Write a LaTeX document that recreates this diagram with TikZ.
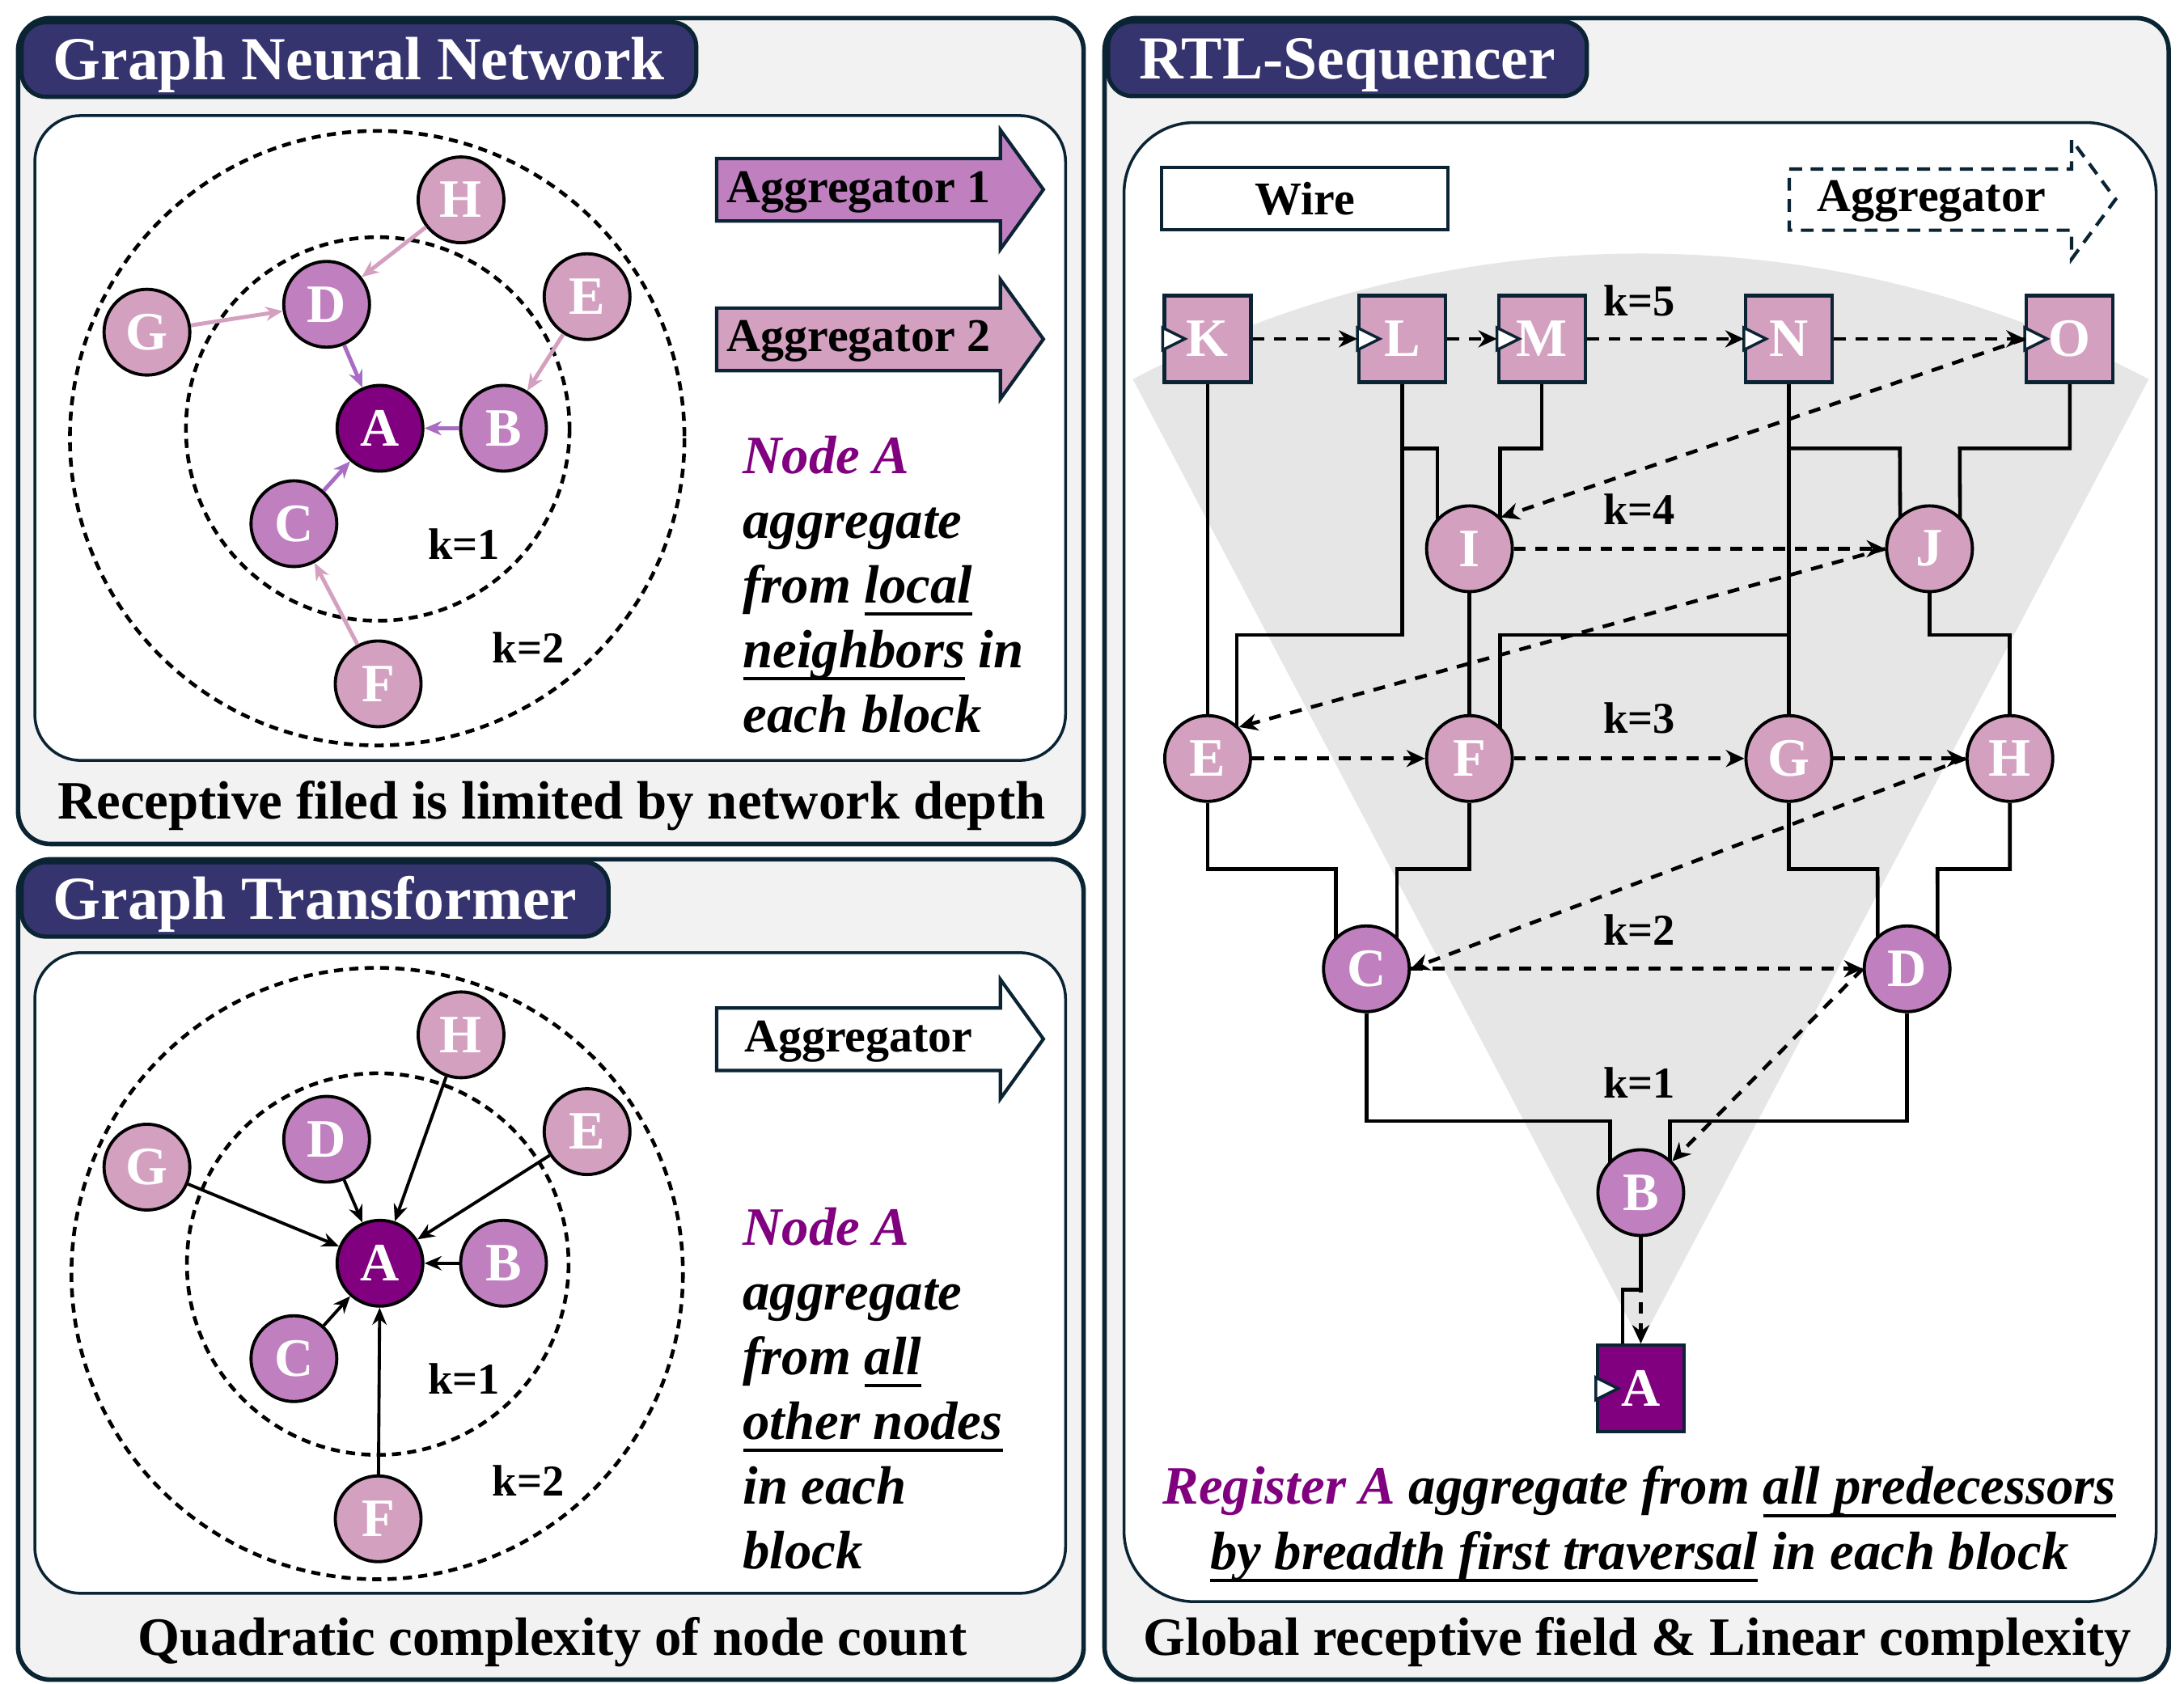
\documentclass[tikz,border=0pt]{standalone}
\usepackage{fontspec}
\setmainfont{Liberation Serif}
\usepackage{xcolor}
\usepackage{tikz}
\usetikzlibrary{arrows.meta,shapes.geometric,positioning,calc,backgrounds}
\definecolor{rsborder}{HTML}{0A2434}
\definecolor{tabnavy}{HTML}{36346F}
\definecolor{panelgray}{HTML}{F2F2F2}
\definecolor{fangray}{HTML}{E6E6E6}
\definecolor{deeppurple}{HTML}{800080}
\definecolor{midpurple}{HTML}{C080C0}
\definecolor{lightpink}{HTML}{D4A0C0}
\definecolor{midedge}{HTML}{A86CC4}
\newcommand{\undl}[1]{\setbox0=\hbox{#1}\rlap{\rule[-4.5pt]{\wd0}{1.2pt}}\box0\relax}
\tikzset{
  panelbox/.style={draw=rsborder, fill=panelgray, line width=1.6pt, rounded corners=0.4cm},
  innerbox/.style={draw=rsborder, fill=white, line width=1pt, rounded corners=0.57cm},
  titletab/.style={
    rectangle, draw=rsborder, fill=tabnavy, line width=1.5pt, rounded corners=0.3cm,
    text=white, font=\fontsize{21.5pt}{25pt}\selectfont\bfseries,
    minimum height=0.92cm, inner xsep=0.39cm, text height=14.2pt, text depth=0pt, anchor=north west
  },
  captext/.style={font=\fontsize{19pt}{22.8pt}\selectfont\bfseries, anchor=base, inner sep=0pt},
  notetext/.style={font=\fontsize{19pt}{22.8pt}\selectfont\bfseries\itshape, align=left, anchor=north west, inner sep=0pt},
  gnode/.style={
    circle, draw=black, line width=1.1pt, minimum size=1.06cm, inner sep=0pt,
    text=white, font=\fontsize{19pt}{20pt}\selectfont\bfseries
  },
  gdeep/.style={gnode, fill=deeppurple},
  gmid/.style={gnode, fill=midpurple},
  glight/.style={gnode, fill=lightpink},
  regbox/.style={
    rectangle, draw=rsborder, line width=1.2pt, minimum size=1.07cm, inner sep=0pt,
    text=white, font=\fontsize{19pt}{20pt}\selectfont\bfseries
  },
  clockmark/.style={fill=white, draw=rsborder, line width=1pt},
  gring/.style={line width=1.3pt, dash pattern=on 3.2pt off 2.2pt},
  gedgemid/.style={-{Stealth[length=6pt,width=5pt]}, draw=midedge, line width=1.4pt},
  gedgelight/.style={-{Stealth[length=6pt,width=5pt]}, draw=lightpink, line width=1.4pt},
  gedge/.style={-{Stealth[length=6pt,width=5pt]}, line width=1.1pt},
  klabel/.style={font=\fontsize{15.5pt}{18pt}\selectfont\bfseries, inner sep=0pt},
  aggshape/.style={draw=rsborder, line width=1.2pt},
  aggtext/.style={font=\fontsize{16.5pt}{19pt}\selectfont\bfseries, inner sep=0pt, anchor=base},
  wirebox/.style={
    rectangle, draw=rsborder, fill=white, line width=1.1pt, minimum width=3.54cm, minimum height=0.77cm,
    text height=11pt, text depth=0pt, font=\fontsize{16.5pt}{19pt}\selectfont\bfseries
  },
  wire/.style={line width=1.3pt},
  bfsedge/.style={-{Stealth[length=6.5pt,width=6pt]}, line width=1.3pt, dash pattern=on 4.2pt off 3.4pt}
}

\begin{document}
\begin{tikzpicture}[x=0.017219cm,y=-0.017219cm]
  \useasboundingbox (0,0) rectangle (1568,1209);

  % panels and the grey fan
  \begin{pgfonlayer}{background}
    \draw[panelbox] (13,13) rectangle (778,606);
    \draw[innerbox] (25,83) rectangle (765,546);
    \draw[panelbox] (13,617) rectangle (778,1206);
    \draw[innerbox] (25,684) rectangle (765,1144);
    \draw[panelbox] (793,13) rectangle (1557,1206);
    \draw[innerbox,rounded corners=0.87cm] (807,88) rectangle (1548,1150);
    \fill[fangray] (1178,964) -- ++(-117.8:782) arc[start angle=-117.8,end angle=-62.2,radius=782] -- cycle;
  \end{pgfonlayer}

  \node[titletab] (gntitle) at (14,14.5) {Graph Neural Network};
  \node[titletab] (gttitle) at (14,617.5) {Graph Transformer};
  \node[titletab] (rttitle) at (794,14) {RTL-Sequencer};

  % Graph Neural Network
  \draw[gring] (270.8,314.6) circle[radius=220.6];
  \draw[gring] (271.2,308) circle[radius=137.7];
  \node[gdeep] (gnA) at (272.8,307.5) {A};
  \node[gmid] (gnB) at (361.5,307.5) {B};
  \node[gmid] (gnC) at (211,376) {C};
  \node[gmid] (gnD) at (234.5,218.5) {D};
  \node[glight] (gnE) at (421.5,213) {E};
  \node[glight] (gnF) at (271.5,491) {F};
  \node[glight] (gnG) at (105.5,238.5) {G};
  \node[glight] (gnH) at (331,143.5) {H};
  \draw[gedgelight] (gnH) -- (gnD);
  \draw[gedgelight] (gnG) -- (gnD);
  \draw[gedgelight] (gnE) -- (gnB);
  \draw[gedgelight] (gnF) -- (gnC);
  \draw[gedgemid] (gnD) -- (gnA);
  \draw[gedgemid] (gnB) -- (gnA);
  \draw[gedgemid] (gnC) -- (gnA);
  \node[klabel] (gnk1) at (333,390.8) {k=1};
  \node[klabel] (gnk2) at (379.3,465) {k=2};
  \draw[aggshape,fill=midpurple] (514.5,113.8) -- (718.2,113.8) -- (718.2,93.3) -- (749.1,136.1)
    -- (718.2,179) -- (718.2,158.7) -- (514.5,158.7) -- cycle;
  \node[aggtext] (gnagg1) at (616.4,145.2) {Aggregator 1};
  \draw[aggshape,fill=lightpink] (514.5,221.2) -- (718.2,221.2) -- (718.2,200.7) -- (749.1,243.5)
    -- (718.2,286.4) -- (718.2,266.1) -- (514.5,266.1) -- cycle;
  \node[aggtext] (gnagg2) at (616.4,252.6) {Aggregator 2};
  \node[notetext] (gnnote) at (533,312.5) {\textcolor{deeppurple}{Node A}\\aggregate\\from \undl{local}\\\undl{neighbors} in\\each block};
  \node[captext] (gncap) at (396,588) {Receptive filed is limited by network depth};

  % Graph Transformer
  \draw[gring] (270.8,914.4) circle[radius=219.5];
  \draw[gring] (271.2,907.6) circle[radius=137];
  \node[gdeep] (gtA) at (272.8,907) {A};
  \node[gmid] (gtB) at (361.5,907) {B};
  \node[gmid] (gtC) at (211,975.5) {C};
  \node[gmid] (gtD) at (234.5,818) {D};
  \node[glight] (gtE) at (421.5,812.5) {E};
  \node[glight] (gtF) at (271.5,1090.5) {F};
  \node[glight] (gtG) at (105.5,838) {G};
  \node[glight] (gtH) at (331,743) {H};
  \foreach \s in {B,C,D,E,F,G,H}
    \draw[gedge] (gt\s) -- (gtA);
  \node[klabel] (gtk1) at (333,989.8) {k=1};
  \node[klabel] (gtk2) at (379.3,1063.1) {k=2};
  \draw[aggshape,fill=white] (514.5,723.7) -- (718.2,723.7) -- (718.2,703.2) -- (749.1,746)
    -- (718.2,788.9) -- (718.2,768.6) -- (514.5,768.6) -- cycle;
  \node[aggtext] (gtagg) at (616.4,755.1) {Aggregator};
  \node[notetext] (gtnote) at (533,866.5) {\textcolor{deeppurple}{Node A}\\aggregate\\from \undl{all}\\\undl{other nodes}\\in each\\block};
  \node[captext] (gtcap) at (396.7,1188.5) {Quadratic complexity of node count};

  % RTL-Sequencer
  \node[wirebox] (wirekey) at (936.8,142.7) {Wire};
  \draw[aggshape,fill=white,dash pattern=on 4.5pt off 3pt] (1284.6,121.4) -- (1487.3,121.4) -- (1487.3,100.4)
    -- (1518.9,143.1) -- (1487.3,186) -- (1487.3,165.3) -- (1284.6,165.3) -- cycle;
  \node[aggtext] (rtagg) at (1386.7,152) {Aggregator};

  \node[regbox,fill=lightpink] (K) at (867,243.3) {K};
  \node[regbox,fill=lightpink] (L) at (1006.8,243.3) {L};
  \node[regbox,fill=lightpink] (M) at (1107,243.3) {M};
  \node[regbox,fill=lightpink] (N) at (1284.3,243.3) {N};
  \node[regbox,fill=lightpink] (O) at (1486,243.3) {O};
  \node[glight] (rtI) at (1055,394) {I};
  \node[glight] (rtJ) at (1385.3,394) {J};
  \node[glight] (rtE) at (867,544.6) {E};
  \node[glight] (rtF) at (1055,544.6) {F};
  \node[glight] (rtG) at (1284.3,544.6) {G};
  \node[glight] (rtH) at (1443,544.6) {H};
  \node[gmid] (rtC) at (981,695.6) {C};
  \node[gmid] (rtD) at (1369.2,695.6) {D};
  \node[gmid] (rtB) at (1178,856.3) {B};
  \node[regbox,fill=deeppurple] (regA) at (1178,997) {A};
  \foreach \r in {K,L,M,N,O,regA}
    \filldraw[clockmark] ($(\r.west)+(0,-8)$) -- ($(\r.west)+(16,0)$) -- ($(\r.west)+(0,8)$) -- cycle;

  % wires
  \begin{pgfonlayer}{background}
    \draw[wire] (K.south) -- (rtE);
    \draw[wire] (L.south) |- (1032,322) -- ($(rtI)+(-23,0)$);
    \draw[wire] (L.south) |- (888,456) -- ($(rtE)+(21,0)$);
    \draw[wire] (M.south) |- (1077,322) -- ($(rtI)+(22,0)$);
    \draw[wire] (N.south) -- (rtG);
    \draw[wire] (N.south) |- (1364,322) -- ($(rtJ)+(-21,0)$);
    \draw[wire] (N.south) |- (1077,456) -- ($(rtF)+(22,0)$);
    \draw[wire] (O.south) |- (1407,322) -- ($(rtJ)+(22,0)$);
    \draw[wire] (rtI) -- (rtF);
    \draw[wire] (rtJ.south) |- (1443,456) -- (rtH);
    \draw[wire] (rtE.south) |- (959,624) -- ($(rtC)+(-22,0)$);
    \draw[wire] (rtF.south) |- (1003,624) -- ($(rtC)+(22,0)$);
    \draw[wire] (rtG.south) |- (1348,624) -- ($(rtD)+(-21,0)$);
    \draw[wire] (rtH.south) |- (1391,624) -- ($(rtD)+(22,0)$);
    \draw[wire] (rtC.south) |- (1156,805) -- ($(rtB)+(-22,0)$);
    \draw[wire] (rtD.south) |- (1199,805) -- ($(rtB)+(21,0)$);
    \draw[wire] (rtB.south) |- (1165,926) -- ($(regA.north)+(-13,0)$);
  \end{pgfonlayer}

  % breadth first order
  \draw[bfsedge] (K.east) -- (L.west);
  \draw[bfsedge] (L.east) -- (M.west);
  \draw[bfsedge] (M.east) -- (N.west);
  \draw[bfsedge] (N.east) -- (O.west);
  \draw[bfsedge] (O.west) -- (rtI.north east);
  \draw[bfsedge] (rtI) -- (rtJ);
  \draw[bfsedge] (rtJ.west) -- (rtE.north east);
  \draw[bfsedge] (rtE) -- (rtF);
  \draw[bfsedge] (rtF) -- (rtG);
  \draw[bfsedge] (rtG) -- (rtH);
  \draw[bfsedge] (rtH.west) -- (rtC.east);
  \draw[bfsedge] (rtC) -- (rtD);
  \draw[bfsedge] (rtD.west) -- (rtB.north east);
  \draw[bfsedge] (rtB.south) -- (regA.north);
  \node[klabel] (rtk5) at (1177,215.9) {k=5};
  \node[klabel] (rtk4) at (1177,365.6) {k=4};
  \node[klabel] (rtk3) at (1177,515.4) {k=3};
  \node[klabel] (rtk2) at (1177,667.6) {k=2};
  \node[klabel] (rtk1) at (1177,777.6) {k=1};
  \node[notetext,align=center,anchor=north] (rtnote) at (1177,1052.4) {\textcolor{deeppurple}{Register A} aggregate from \undl{all predecessors}\\\undl{by breadth first traversal} in each block};
  \node[captext] (rtcap) at (1175.7,1188.5) {Global receptive field \& Linear complexity};
\end{tikzpicture}
\end{document}
